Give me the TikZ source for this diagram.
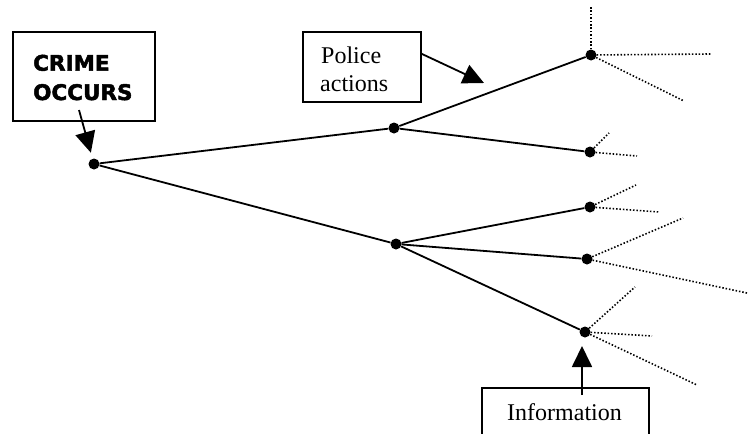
\documentclass[tikz,border=0pt]{standalone}
\usepackage{fontspec}
\setmainfont{Liberation Serif}
\newfontfamily\headfont[FakeBold=2.2]{DejaVu Sans}
\usetikzlibrary{arrows.meta}
\begin{document}
\begin{tikzpicture}[x=1pt,y=-1pt,
  branch/.style={line width=1.8pt},
  twig/.style={line width=1.6pt, dash pattern=on 1.5pt off 1.9pt},
  event/.style={circle, fill=black, inner sep=0pt, minimum size=11pt},
  labelbox/.style={draw, line width=1.5pt, anchor=north west, inner sep=0pt},
  headtext/.style={font=\headfont\bfseries\fontsize{21.5}{24}\selectfont, anchor=base west, inner sep=0pt},
  plaintext/.style={font=\fontsize{24}{28}\selectfont, anchor=base west, inner sep=0pt},
  pointer/.style={line width=1.8pt, -{Triangle[length=21pt,width=20pt]}}]
\clip (0,0) rectangle (748,434);

% decision points
\node[event] (root) at (94,164) {};
\node[event] (a)  at (394,128) {};
\node[event] (b)  at (396,244) {};
\node[event] (a1) at (591,55) {};
\node[event] (a2) at (590,152) {};
\node[event] (b1) at (590,207) {};
\node[event] (b2) at (587,259) {};
\node[event] (b3) at (585,332) {};

% solid branches
\draw[branch] (root) -- (a);
\draw[branch] (root) -- (b);
\draw[branch] (a) -- (a1);
\draw[branch] (a) -- (a2);
\draw[branch] (b) -- (b1);
\draw[branch] (b) -- (b2);
\draw[branch] (b) -- (b3);

% open-ended outcomes
\coordinate (a1u) at (591,7);
\coordinate (a1r) at (711,54);
\coordinate (a1d) at (684,101);
\coordinate (a2u) at (609,133);
\coordinate (a2r) at (637,156);
\coordinate (b1u) at (636,185);
\coordinate (b1r) at (659,212);
\coordinate (b2u) at (683,218);
\coordinate (b2r) at (747,293);
\coordinate (b3u) at (635,287);
\coordinate (b3r) at (652,336);
\coordinate (b3d) at (697,385);
\foreach \s/\t in {a1/a1u,a1/a1r,a1/a1d,a2/a2u,a2/a2r,b1/b1u,b1/b1r,b2/b2u,b2/b2r,b3/b3u,b3/b3r,b3/b3d}
  \draw[twig] (\s) -- (\t);

% label boxes
\node[labelbox, minimum width=142pt, minimum height=89pt] (crime) at (12,31) {};
\node[headtext] (crimeA) at (33,70.7) {CRIME};
\node[headtext] (crimeB) at (33,100) {OCCURS};

\node[labelbox, minimum width=118pt, minimum height=70pt] (police) at (302,31) {};
\node[plaintext] (policeA) at (321,63) {Police};
\node[plaintext] (policeB) at (320,91) {actions};

\node[labelbox, minimum width=167pt, minimum height=70pt] (info) at (481,387) {};
\node[plaintext] (infoA) at (507,420) {Information};

% pointers
\coordinate (crimefoot) at (79,110);
\draw[pointer, shorten >=6pt] (crimefoot) -- (root);
\coordinate (policetip) at (484,83);
\draw[pointer] ([yshift=13pt]police.east) -- (policetip);
\coordinate (infofoot) at (582,395);
\coordinate (infotip) at (582,346);
\draw[pointer] (infofoot) -- (infotip);
\end{tikzpicture}
\end{document}
